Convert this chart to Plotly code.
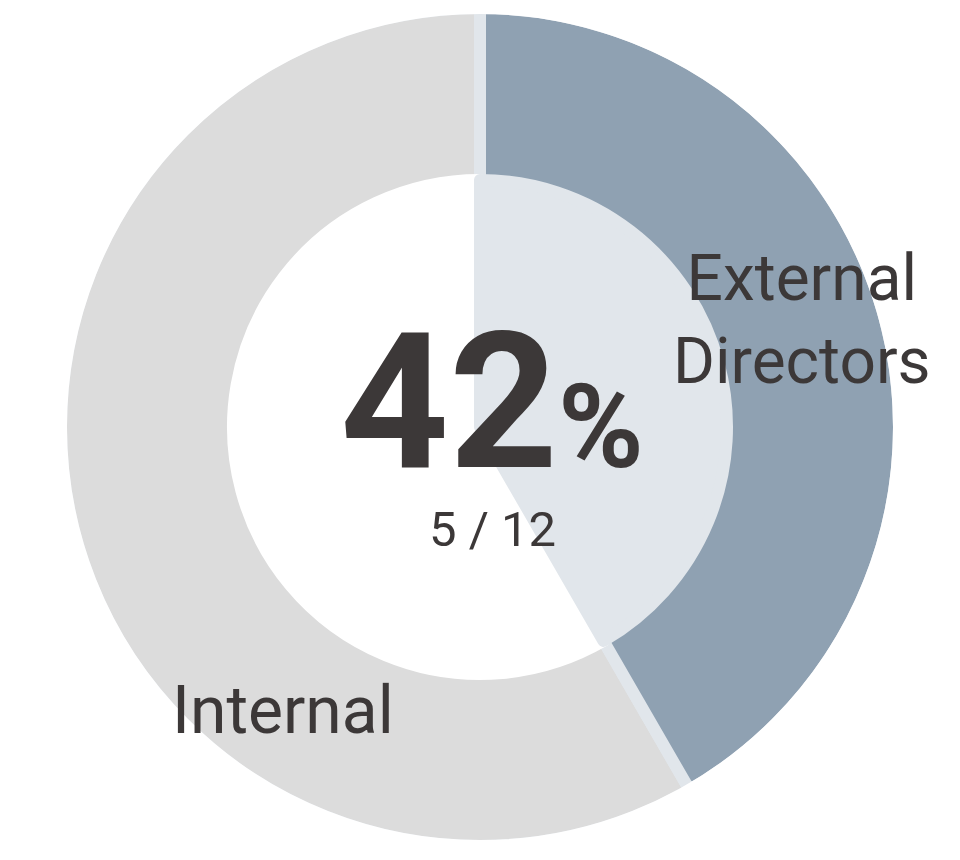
import plotly.graph_objects as go

# ---- data ----
labels = ["Internal", "External Directors"]
counts = [7, 5]
ring_colors = ["#DCDCDC", "#8FA1B2"]
inner_colors = ["#FFFFFF", "#E1E6EB"]

total = sum(counts)
ext = counts[1]
pct = round(ext / total * 100)
start_angle = 360 * ext / total   # Internal starts where External ends

W, H = 960, 860
OFF = 8                    # page body margin offset
CX, CY = 480 - OFF, 427 - OFF   # pie centre in figure pixels
R_OUT = 413                # visible outer radius
R_IN = 253                 # visible inner radius of ring
GAP = 12                   # separator width
LIGHT = "#E1E6EB"
TXT = "#3C3838"


def dom(r):
    return dict(x=[max(0, (CX - r) / W), min(1, (CX + r) / W)],
                y=[max(0, (H - CY - r) / H), min(1, (H - CY + r) / H)])


fig = go.Figure()

# outer ring, slightly oversized so its separator stroke on the outer arc lies outside R_OUT
r_ring = R_OUT + GAP / 2
r_hole = R_IN - GAP / 2 - 8
fig.add_trace(go.Pie(
    labels=labels, values=counts, sort=False, direction="clockwise",
    rotation=start_angle, hole=r_hole / r_ring, domain=dom(r_ring),
    marker=dict(colors=ring_colors, line=dict(color=LIGHT, width=GAP)),
    textinfo="none", hoverinfo="skip", showlegend=False,
))

# inner filled pie
r_p = R_IN - GAP / 2
fig.add_trace(go.Pie(
    labels=labels, values=counts, sort=False, direction="clockwise",
    rotation=start_angle, hole=0, domain=dom(r_p),
    marker=dict(colors=inner_colors, line=dict(color=inner_colors, width=GAP)),
    textinfo="none", hoverinfo="skip", showlegend=False,
))

# white mask over the stroke that falls outside the visible outer radius
mask_w = GAP + 6
rm = R_OUT + mask_w / 2
fig.add_shape(type="circle", xref="paper", yref="paper", layer="above",
              x0=(CX - rm) / W, x1=(CX + rm) / W,
              y0=(H - CY - rm) / H, y1=(H - CY + rm) / H,
              line=dict(color="#FFFFFF", width=mask_w), fillcolor="rgba(0,0,0,0)")


def px(x, y):
    return x / W, 1 - y / H


font = "Roboto, 'DejaVu Sans', sans-serif"

x, y = px(483.5, 393.5)
fig.add_annotation(x=x, y=y, xref="paper", yref="paper", showarrow=False,
                   xanchor="center", yanchor="middle",
                   text=f"<b>{pct}</b><b><span style='font-size:116px'>%</span></b>",
                   font=dict(family=font, size=190, color=TXT))

x, y = px(484, 521)
fig.add_annotation(x=x, y=y, xref="paper", yref="paper", showarrow=False,
                   xanchor="center", yanchor="middle",
                   text=f"{ext} / {total}",
                   font=dict(family=font, size=49, color=TXT))

x, y = px(794, 312)
fig.add_annotation(x=x, y=y, xref="paper", yref="paper", showarrow=False,
                   xanchor="center", yanchor="middle",
                   text="External<br>Directors",
                   font=dict(family=font, size=64, color=TXT))

x, y = px(274.5, 702)
fig.add_annotation(x=x, y=y, xref="paper", yref="paper", showarrow=False,
                   xanchor="center", yanchor="middle",
                   text="Internal",
                   font=dict(family=font, size=66, color=TXT))

fig.update_layout(width=W, height=H, margin=dict(l=0, r=0, t=0, b=0),
                  paper_bgcolor="#FFFFFF", plot_bgcolor="#FFFFFF")

fig.write_html("out.html")
